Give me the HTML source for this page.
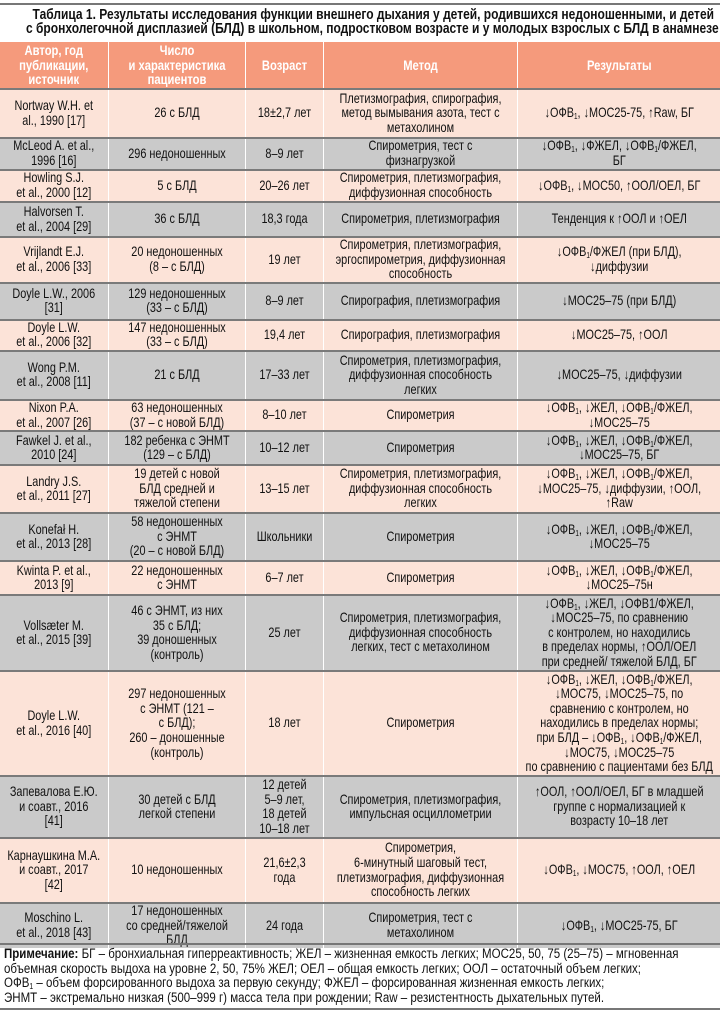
<!DOCTYPE html>
<html><head><meta charset="utf-8">
<style>
html,body{margin:0;padding:0;background:#fff;}
body{width:720px;height:1012px;position:relative;overflow:hidden;font-family:"Liberation Sans","DejaVu Sans",sans-serif;color:#111;}
.rule{position:absolute;left:0;width:720px;height:2px;background:#777;}
.title{position:absolute;right:6px;top:8px;width:860px;text-align:right;font-weight:bold;font-size:15px;line-height:14px;transform:scaleX(0.8);transform-origin:right top;white-space:nowrap;}
table{position:absolute;left:0;top:42px;width:720px;border-collapse:collapse;table-layout:fixed;}
td,th{text-align:center;vertical-align:middle;font-size:13.6px;line-height:14.6px;padding:0;border-left:1px solid #fff;overflow:visible;}
td:first-child,th:first-child{border-left:none;}
.c{width:125%;transform:scaleX(0.8);transform-origin:left center;}
th{background:#f59a7c;color:#fff;font-weight:bold;height:46px;font-size:14px;}
tr.p td{background:#fce3d8;}
tr.g td{background:#cacaca;}
tbody tr td{border-top:2px solid #7a7a7a;}
sub{font-size:8px;vertical-align:-2px;line-height:0;}
.note{position:absolute;left:4px;top:947px;width:830px;font-size:13.4px;line-height:14.6px;transform:scaleX(0.86);transform-origin:left top;white-space:nowrap;}
</style></head>
<body>
<div class="rule" style="top:3px"></div>
<div class="title">Таблица 1. Результаты исследования функции внешнего дыхания у детей, родившихся недоношенными, и детей<br>с бронхолегочной дисплазией (БЛД) в школьном, подростковом возрасте и у молодых взрослых с БЛД в анамнезе</div>
<table>
<colgroup><col style="width:108px"><col style="width:137px"><col style="width:78px"><col style="width:194px"><col style="width:203px"></colgroup>
<thead><tr>
<th><div class="c">Автор, год<br>публикации,<br>источник</div></th>
<th><div class="c">Число<br>и характеристика<br>пациентов</div></th>
<th><div class="c">Возраст</div></th>
<th><div class="c">Метод</div></th>
<th><div class="c">Результаты</div></th>
</tr></thead>
<tbody>
<tr class="p" style="height:49px"><td><div class="c">Nortway W.H. et<br>al., 1990 [17]</div></td><td><div class="c">26 с БЛД</div></td><td><div class="c">18±2,7 лет</div></td><td><div class="c">Плетизмография, спирография,<br>метод вымывания азота, тест с<br>метахолином</div></td><td><div class="c">↓ОФВ<sub>1</sub>, ↓МОС25-75, ↑Raw, БГ</div></td></tr>
<tr class="g" style="height:32px"><td><div class="c">McLeod A. et al.,<br>1996 [16]</div></td><td><div class="c">296 недоношенных</div></td><td><div class="c">8–9 лет</div></td><td><div class="c">Спирометрия, тест с<br>физнагрузкой</div></td><td><div class="c">↓ОФВ<sub>1</sub>, ↓ФЖЕЛ, ↓ОФВ<sub>1</sub>/ФЖЕЛ,<br>БГ</div></td></tr>
<tr class="p" style="height:32px"><td><div class="c">Howling S.J.<br>et al., 2000 [12]</div></td><td><div class="c">5 с БЛД</div></td><td><div class="c">20–26 лет</div></td><td><div class="c">Спирометрия, плетизмография,<br>диффузионная способность</div></td><td><div class="c">↓ОФВ<sub>1</sub>, ↓МОС50, ↑ООЛ/ОЕЛ, БГ</div></td></tr>
<tr class="g" style="height:35px"><td><div class="c">Halvorsen T.<br>et al., 2004 [29]</div></td><td><div class="c">36 с БЛД</div></td><td><div class="c">18,3 года</div></td><td><div class="c">Спирометрия, плетизмография</div></td><td><div class="c">Тенденция к ↑ООЛ и ↑ОЕЛ</div></td></tr>
<tr class="p" style="height:44px"><td><div class="c">Vrijlandt E.J.<br>et al., 2006 [33]</div></td><td><div class="c">20 недоношенных<br>(8 – с БЛД)</div></td><td><div class="c">19 лет</div></td><td><div class="c">Спирометрия, плетизмография,<br>эргоспирометрия, диффузионная<br>способность</div></td><td><div class="c">↓ОФВ<sub>1</sub>/ФЖЕЛ (при БЛД),<br>↓диффузии</div></td></tr>
<tr class="g" style="height:37px"><td><div class="c">Doyle L.W., 2006<br>[31]</div></td><td><div class="c">129 недоношенных<br>(33 – с БЛД)</div></td><td><div class="c">8–9 лет</div></td><td><div class="c">Спирография, плетизмография</div></td><td><div class="c">↓МОС25–75 (при БЛД)</div></td></tr>
<tr class="p" style="height:31px"><td><div class="c">Doyle L.W.<br>et al., 2006 [32]</div></td><td><div class="c">147 недоношенных<br>(33 – с БЛД)</div></td><td><div class="c">19,4 лет</div></td><td><div class="c">Спирография, плетизмография</div></td><td><div class="c">↓МОС25–75, ↑ООЛ</div></td></tr>
<tr class="g" style="height:49px"><td><div class="c">Wong P.M.<br>et al., 2008 [11]</div></td><td><div class="c">21 с БЛД</div></td><td><div class="c">17–33 лет</div></td><td><div class="c">Спирометрия, плетизмография,<br>диффузионная способность<br>легких</div></td><td><div class="c">↓МОС25–75, ↓диффузии</div></td></tr>
<tr class="p" style="height:31px"><td><div class="c">Nixon P.A.<br>et al., 2007 [26]</div></td><td><div class="c">63 недоношенных<br>(37 – с новой БЛД)</div></td><td><div class="c">8–10 лет</div></td><td><div class="c">Спирометрия</div></td><td><div class="c">↓ОФВ<sub>1</sub>, ↓ЖЕЛ, ↓ОФВ<sub>1</sub>/ФЖЕЛ,<br>↓МОС25–75</div></td></tr>
<tr class="g" style="height:34px"><td><div class="c">Fawkel J. et al.,<br>2010 [24]</div></td><td><div class="c">182 ребенка с ЭНМТ<br>(129 – с БЛД)</div></td><td><div class="c">10–12 лет</div></td><td><div class="c">Спирометрия</div></td><td><div class="c">↓ОФВ<sub>1</sub>, ↓ЖЕЛ, ↓ОФВ<sub>1</sub>/ФЖЕЛ,<br>↓МОС25–75, БГ</div></td></tr>
<tr class="p" style="height:48px"><td><div class="c">Landry J.S.<br>et al., 2011 [27]</div></td><td><div class="c">19 детей с новой<br>БЛД средней и<br>тяжелой степени</div></td><td><div class="c">13–15 лет</div></td><td><div class="c">Спирометрия, плетизмография,<br>диффузионная способность<br>легких</div></td><td><div class="c">↓ОФВ<sub>1</sub>, ↓ЖЕЛ, ↓ОФВ<sub>1</sub>/ФЖЕЛ,<br>↓МОС25–75, ↓диффузии, ↑ООЛ,<br>↑Raw</div></td></tr>
<tr class="g" style="height:48px"><td><div class="c">Konefał H.<br>et al., 2013 [28]</div></td><td><div class="c">58 недоношенных<br>с ЭНМТ<br>(20 – с новой БЛД)</div></td><td><div class="c">Школьники</div></td><td><div class="c">Спирометрия</div></td><td><div class="c">↓ОФВ<sub>1</sub>, ↓ЖЕЛ, ↓ОФВ<sub>1</sub>/ФЖЕЛ,<br>↓МОС25–75</div></td></tr>
<tr class="p" style="height:34px"><td><div class="c">Kwinta P. et al.,<br>2013 [9]</div></td><td><div class="c">22 недоношенных<br>с ЭНМТ</div></td><td><div class="c">6–7 лет</div></td><td><div class="c">Спирометрия</div></td><td><div class="c">↓ОФВ<sub>1</sub>, ↓ЖЕЛ, ↓ОФВ<sub>1</sub>/ФЖЕЛ,<br>↓МОС25–75н</div></td></tr>
<tr class="g" style="height:76px"><td><div class="c">Vollsæter M.<br>et al., 2015 [39]</div></td><td><div class="c">46 с ЭНМТ, из них<br>35 с БЛД;<br>39 доношенных<br>(контроль)</div></td><td><div class="c">25 лет</div></td><td><div class="c">Спирометрия, плетизмография,<br>диффузионная способность<br>легких, тест с метахолином</div></td><td><div class="c">↓ОФВ<sub>1</sub>, ↓ЖЕЛ, ↓ОФВ1/ФЖЕЛ,<br>↓МОС25–75, по сравнению<br>с контролем, но находились<br>в пределах нормы, ↑ООЛ/ОЕЛ<br>при средней/ тяжелой БЛД, БГ</div></td></tr>
<tr class="p" style="height:105px"><td><div class="c">Doyle L.W.<br>et al., 2016 [40]</div></td><td><div class="c">297 недоношенных<br>с ЭНМТ (121 –<br>с БЛД);<br>260 – доношенные<br>(контроль)</div></td><td><div class="c">18 лет</div></td><td><div class="c">Спирометрия</div></td><td><div class="c">↓ОФВ<sub>1</sub>, ↓ЖЕЛ, ↓ОФВ<sub>1</sub>/ФЖЕЛ,<br>↓МОС75, ↓МОС25–75, по<br>сравнению с контролем, но<br>находились в пределах нормы;<br>при БЛД – ↓ОФВ<sub>1</sub>, ↓ОФВ<sub>1</sub>/ФЖЕЛ,<br>↓МОС75, ↓МОС25–75<br>по сравнению с пациентами без БЛД</div></td></tr>
<tr class="g" style="height:62px"><td><div class="c">Запевалова Е.Ю.<br>и соавт., 2016<br>[41]</div></td><td><div class="c">30 детей с БЛД<br>легкой степени</div></td><td><div class="c">12 детей<br>5–9 лет,<br>18 детей<br>10–18 лет</div></td><td><div class="c">Спирометрия, плетизмография,<br>импульсная осциллометрии</div></td><td><div class="c">↑ООЛ, ↑ООЛ/ОЕЛ, БГ в младшей<br>группе с нормализацией к<br>возрасту 10–18 лет</div></td></tr>
<tr class="p" style="height:65px"><td><div class="c">Карнаушкина М.А.<br>и соавт., 2017<br>[42]</div></td><td><div class="c">10 недоношенных</div></td><td><div class="c">21,6±2,3<br>года</div></td><td><div class="c">Спирометрия,<br>6-минутный шаговый тест,<br>плетизмография, диффузионная<br>способность легких</div></td><td><div class="c">↓ОФВ<sub>1</sub>, ↓МОС75, ↑ООЛ, ↑ОЕЛ</div></td></tr>
<tr class="g" style="height:43px"><td><div class="c">Moschino L.<br>et al., 2018 [43]</div></td><td><div class="c">17 недоношенных<br>со средней/тяжелой<br>БЛД</div></td><td><div class="c">24 года</div></td><td><div class="c">Спирометрия, тест с<br>метахолином</div></td><td><div class="c">↓ОФВ<sub>1</sub>, ↓МОС25-75, БГ</div></td></tr>
</tbody></table>
<div class="rule" style="top:943px"></div>
<div class="note"><b>Примечание:</b> БГ – бронхиальная гиперреактивность; ЖЕЛ – жизненная емкость легких; МОС25, 50, 75 (25–75) – мгновенная<br>объемная скорость выдоха на уровне 2, 50, 75% ЖЕЛ; ОЕЛ – общая емкость легких; ООЛ – остаточный объем легких;<br>ОФВ<sub>1</sub> – объем форсированного выдоха за первую секунду; ФЖЕЛ – форсированная жизненная емкость легких;<br>ЭНМТ – экстремально низкая (500–999 г) масса тела при рождении; Raw – резистентность дыхательных путей.</div>
<div class="rule" style="top:1008px"></div>
</body></html>
